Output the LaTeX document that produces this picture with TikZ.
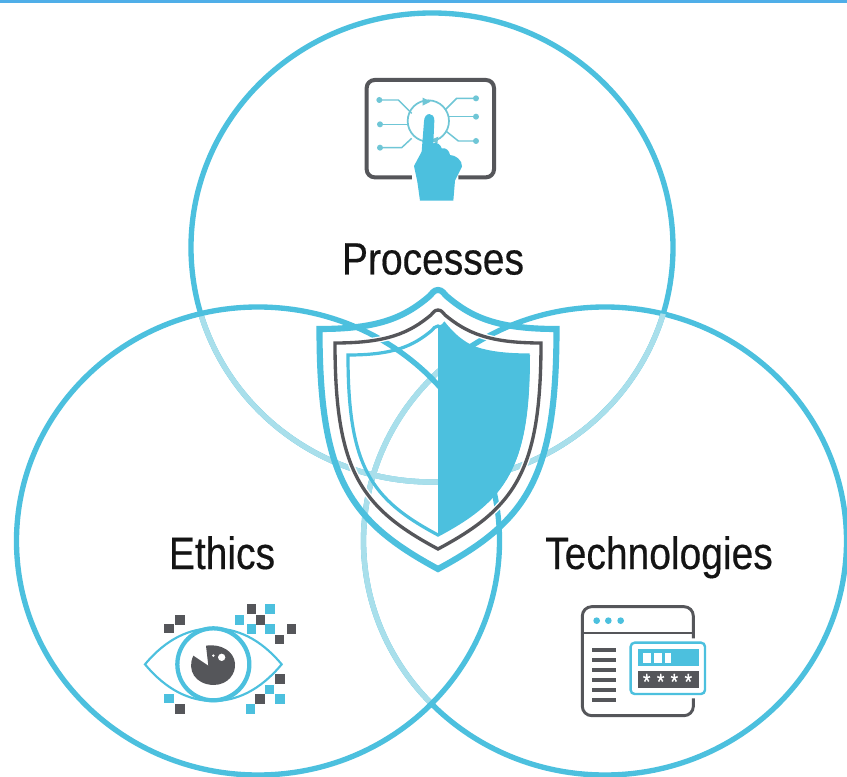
\documentclass[tikz,border=0pt]{standalone}
\usepackage{fontspec}
\setmainfont[FakeStretch=0.86,FakeBold=0.35]{Liberation Sans}
\definecolor{cy}{HTML}{4CC0DE}
\definecolor{cyl}{HTML}{A9DFEB}
\definecolor{cyt}{HTML}{6FC6D6}
\definecolor{gy}{HTML}{55565A}
\definecolor{topb}{HTML}{4FAEE8}
\newcommand{\shieldleft}[4]{(438,#2) .. controls ({438-0.035*#1},#2) and ({438-0.05*#1},{#2+0.03*#1}) .. ({438-0.07*#1},{#2+0.05*#1}) .. controls ({438-0.28*#1},{#2+0.7*(#3-#2)}) and ({438-0.5*#1},#3) .. ({438-#1},#3) .. controls ({438-#1},{#3+0.62*(#4-#3)}) and ({438-0.75*#1},{#3+0.8*(#4-#3)}) .. (438,#4)}
\newcommand{\shieldfull}[4]{\shieldleft{#1}{#2}{#3}{#4} .. controls ({438+0.75*#1},{#3+0.8*(#4-#3)}) and ({438+#1},{#3+0.62*(#4-#3)}) .. ({438+#1},#3) .. controls ({438+0.5*#1},#3) and ({438+0.28*#1},{#2+0.7*(#3-#2)}) .. ({438+0.07*#1},{#2+0.05*#1}) .. controls ({438+0.05*#1},{#2+0.03*#1}) and ({438+0.035*#1},#2) .. (438,#2) -- cycle}
\newcommand{\topell}{(432,247.5) circle[x radius=241,y radius=234.5]}
\newcommand{\leftell}{(258,541) circle[x radius=241.5,y radius=234]}
\newcommand{\rightell}{(605,541) circle[x radius=241.5,y radius=234]}
\tikzset{
 ring/.style={line width=4pt,draw=cy},
 ringl/.style={line width=4pt,draw=cyl},
 lab/.style={font=\fontsize{34}{36}\selectfont,text=black!92,inner sep=0pt,anchor=base},
 icon/.style={x=0.25pt,y=-0.25pt},
 gsq/.style={fill=gy},
 csq/.style={fill=cy}
}
\newcommand{\squ}[3]{\fill[#1] ({#2-14},{#3-14}) rectangle ({#2+14},{#3+14});}
\begin{document}
\begin{tikzpicture}[x=0.75pt,y=-0.75pt]
\useasboundingbox (0,0) rectangle (847,777);
\clip (0,0) rectangle (847,777);
\fill[white] (0,0) rectangle (847,777);
\fill[topb] (0,0) rectangle (847,3);
% circles
\draw[ring] \topell;
\draw[ring] \rightell;
\begin{scope}
 \clip \leftell;
 \draw[ringl] \topell;
 \draw[ringl] \rightell;
\end{scope}
\begin{scope}
 \clip \rightell;
 \draw[ringl] \topell;
\end{scope}
\begin{scope}
 \clip \topell;
 \clip (0,0) rectangle (438,777);
 \draw[ringl] \rightell;
\end{scope}
\draw[ring] \leftell;
% shield
\draw[white,line width=4.5pt,miter limit=10] \shieldfull{103}{310}{343}{549};
\draw[cy,line width=4.6pt,line join=miter,miter limit=10] \shieldfull{118.5}{290}{329}{569};
\draw[gy,line width=2.5pt,line join=miter] \shieldfull{103}{310}{343}{549};
\draw[cy,line width=2.4pt,line join=miter] \shieldfull{90}{326}{355}{535};
\fill[cy] \shieldleft{-92}{326}{355}{535} -- cycle;
% labels
\node[lab] (processes) at (433,274.5) {Processes};
\node[lab] (ethics) at (222,569) {Ethics};
\node[lab] (technologies) at (659,569) {Technologies};
% processes icon
\begin{scope}[shift={(340,60)},icon]
 \draw[gy,line width=3pt,rounded corners=6pt] (225,352) -- (80,352) -- (80,60) -- (462,60) -- (462,352) -- (355,352);
 \draw[cyt,line width=1.3pt] (265,183) circle[radius=62];
 \draw[cyt,line width=1.1pt] (118,120) -- (175,120) -- (215,160);
 \draw[cyt,line width=1.1pt] (120,193) -- (205,193);
 \draw[cyt,line width=1.1pt] (120,263) -- (185,263) -- (215,235);
 \draw[cyt,line width=1.1pt] (408,115) -- (350,115) -- (315,150);
 \draw[cyt,line width=1.1pt] (408,170) -- (328,170);
 \draw[cyt,line width=1.1pt] (408,243) -- (355,243) -- (320,215);
 \foreach \p in {(118,120),(120,193),(120,263),(408,115),(408,170),(408,243)} \fill[cyt] \p circle[radius=9];
 \fill[cyt] (248,113) -- (272,125) -- (248,137) -- cycle;
 \fill[cyt] (295,230) -- (272,240) -- (292,252) -- cycle;
 \fill[white] (215,250) rectangle (300,360);
 \fill[cy] (252,185) .. controls (252,155) and (284,155) .. (283,182) -- (280,250) .. controls (292,245) and (302,255) .. (305,265) .. controls (318,262) and (328,272) .. (330,285) .. controls (345,285) and (368,300) .. (366,320) -- (345,362) -- (340,422) -- (240,422) -- (232,365) -- (222,318) -- (245,275) -- cycle;
\end{scope}
% ethics icon
\begin{scope}[shift={(130,595)},icon]
 \draw[cy,line width=1.6pt,line join=miter] (45,208) .. controls (110,130) and (180,100) .. (250,100) .. controls (320,100) and (390,130) .. (455,208) .. controls (390,286) and (320,318) .. (250,318) .. controls (180,318) and (110,286) .. (45,208) -- cycle;
 \draw[cy,line width=3.2pt] (250,208) circle[radius=108];
 \fill[gy] (235,212) -- (190,182) .. controls (170,225) and (195,268) .. (250,270) .. controls (295,270) and (318,235) .. (315,205) .. controls (312,170) and (275,145) .. (228,152) -- cycle;
 \fill[white] (275,187) circle[radius=11];
 \fill[white] (250,182) circle[radius=4];
 \foreach \a/\b in {365/42,150/75,117/100,392/75,484/102,448/133,450/252,390/312,150/342} {\squ{gsq}{\a}{\b}}
 \foreach \a/\b in {420/42,328/75,365/102,420/102,418/283,450/312,117/310,362/342} {\squ{csq}{\a}{\b}}
\end{scope}
% technologies icon
\begin{scope}[shift={(565,595)},icon]
 \draw[gy,line width=2.2pt,rounded corners=7pt] (385,130) -- (385,35) -- (52,35) -- (52,362) -- (385,362) -- (385,310);
 \draw[gy,line width=1.6pt] (52,113) -- (385,113);
 \foreach \a in {95,130,167} \fill[cy] (\a,77) circle[radius=10];
 \foreach \b in {165,195,225,255,285,315} \fill[gy] (80,{\b-5.5}) rectangle (153,{\b+5.5});
 \draw[cy,line width=1.8pt,fill=white,rounded corners=3pt] (197,143) rectangle (420,297);
 \fill[cy] (218,163) rectangle (402,213);
 \foreach \a/\c in {235/257,268/290,300/317} \fill[white] (\a,173) rectangle (\c,203);
 \fill[gy] (218,227) rectangle (402,280);
 \foreach \a in {245,287,328,370} \node[text=white,font=\fontsize{17}{17}\selectfont,inner sep=0pt] (star\a) at (\a,260) {*};
\end{scope}
\end{tikzpicture}
\end{document}
